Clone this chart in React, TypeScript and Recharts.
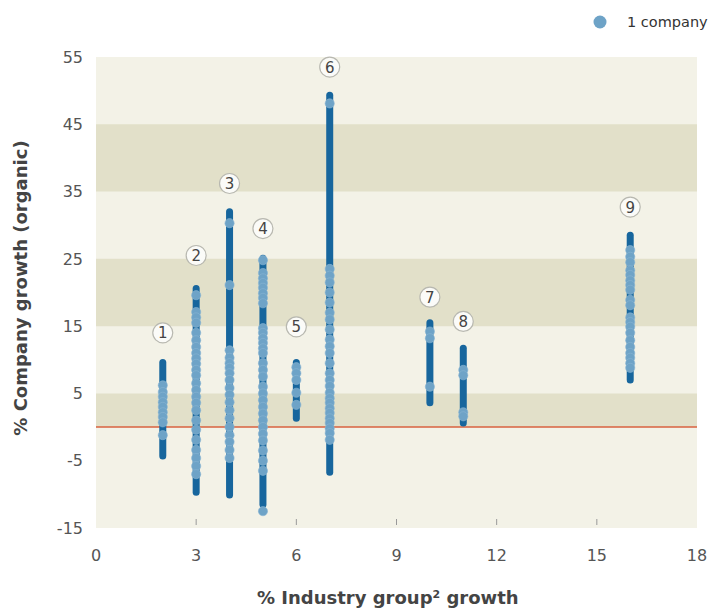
import React from "react";
import {
  ComposedChart,
  XAxis,
  YAxis,
  Scatter,
  ReferenceArea,
  ReferenceLine,
} from "recharts";

// industry groups: x position, range of company growth, label height
const groupX = [2, 3, 4, 5, 6, 7, 10, 11, 16];
const groupMin = [-4.3, -9.7, -10.1, -11.5, 1.3, -6.7, 3.6, 0.6, 7.0];
const groupMax = [9.6, 20.6, 32, 25.1, 9.6, 49.3, 15.5, 11.7, 28.5];
const groupLabelY = [14, 25.5, 36.2, 29.5, 14.9, 53.5, 19.3, 15.7, 32.7];

// visible single-company dots per group
const group1 = [6.2, 5.2, 4.5, 3.7, 3.0, 2.2, 1.5, 0.7, -1.2];
const group2 = [19.6, 17.1, 16.3, 15.5, 14, 12.9, 11.9, 11, 10.2, 9.4, 8.5, 7.7, 6.5, 5.5, 4.5, 3.6, 2.5, 1.0, -0.4, -1.9, -3.4, -4.6, -5.8, -7];
const group3 = [30.3, 21.1, 11.4, 10.3, 9.5, 8.8, 8.0, 7.0, 5.8, 4.8, 3.7, 2.5, 1.3, 0, -1.2, -2.2, -3.4, -4.6];
const group4 = [24.8, 22.9, 22.1, 21.4, 20.7, 19.9, 19.2, 18.4, 14.7, 14.0, 13.2, 12.5, 11.7, 11.0, 9.5, 8.5, 7.5, 6, 5, 4, 3, 2, 1, 0, -1, -2, -3.5, -5, -6.5, -12.5];
const group5 = [8.9, 8.0, 7.0, 5.1, 3.3];
const group6 = [48.1, 23.5, 22.5, 21.5, 20, 18.5, 17, 16, 14.5, 13, 12, 11, 9.5, 8, 7, 6.1, 5.1, 4.3, 3.6, 2.8, 2.1, 1.3, 0.6, -0.2, -0.9, -1.9];
const group7 = [14.2, 13.2, 6.0];
const group8 = [8.5, 7.7, 2.2, 1.6];
const group9 = [26.3, 25.3, 24.5, 23.3, 22.6, 21.8, 21.1, 20.4, 18.9, 18.1, 16.3, 15.6, 14.9, 14.0, 12.9, 11.9, 11.0, 10.3, 9.5, 8.8];

const xTicks = [0, 3, 6, 9, 12, 15, 18];
const yTicks = [-15, -5, 5, 15, 25, 35, 45, 55];

const allGroups = [group1, group2, group3, group4, group5, group6, group7, group8, group9];
const companyPoints = allGroups.flatMap((vals, i) => vals.map((y) => ({ x: groupX[i], y })));
const labelPoints = groupX.map((x, i) => ({ x, y: groupLabelY[i], n: i + 1 }));

const FONT = "'DejaVu Sans', sans-serif";
const LIGHT = "#f3f2e7";
const DARK = "#e2e0c9";
const BAR = "#17669d";
const DOT = "#6ea3c7";

const CompanyDot = (props: any) => {
  const { cx, cy } = props;
  return <circle cx={cx} cy={cy} r={4.6} fill={DOT} stroke="#8ab6d4" strokeWidth={0.6} />;
};

const NumberBadge = (props: any) => {
  const { cx, cy, payload } = props;
  return (
    <g>
      <circle cx={cx} cy={cy} r={10} fill="#fbfbf8" stroke="#b8b8b0" strokeWidth={1.2} />
      <text x={cx} y={cy + 5.5} textAnchor="middle" fontSize={15} fontFamily={FONT} fill="#444">
        {payload.n}
      </text>
    </g>
  );
};

const XTick = (props: any) => {
  const { x, y, payload } = props;
  const v = payload.value;
  return (
    <g>
      {v > 0 && v < 18 && <line x1={x} x2={x} y1={y - 9} y2={y - 3} stroke="#999" strokeWidth={1} />}
      <text x={x} y={y + 33} textAnchor="middle" fontSize={16} fontFamily={FONT} fill="#555">
        {v}
      </text>
    </g>
  );
};

export default function App() {
  return (
    <div style={{ position: "absolute", left: 0, top: 0, background: "#fff" }}>
      <ComposedChart width={709} height={612} margin={{ top: 57, right: 12, bottom: 24, left: 36 }}>
        <XAxis
          type="number"
          dataKey="x"
          domain={[0, 18]}
          ticks={xTicks}
          axisLine={false}
          tickLine={false}
          tickSize={0}
          tickMargin={0}
          height={60}
          tick={<XTick />}
          label={{
            content: () => (
              <text x={257} y={604} fontSize={18} fontWeight="bold" fontFamily={FONT} fill="#444">
                % Industry group
                <tspan fontSize={11} dy={-6}>2</tspan>
                <tspan dy={6}> growth</tspan>
              </text>
            ),
          }}
        />
        <YAxis
          type="number"
          dataKey="y"
          domain={[-15, 55]}
          ticks={yTicks}
          axisLine={false}
          tickLine={false}
          tickSize={0}
          tickMargin={13}
          width={60}
          tick={{ fontSize: 16, fontFamily: FONT, fill: "#555" }}
          label={{
            content: () => (
              <text
                x={27}
                y={288}
                transform="rotate(-90 27 288)"
                textAnchor="middle"
                fontSize={18}
                fontWeight="bold"
                fontFamily={FONT}
                fill="#444"
              >
                % Company growth (organic)
              </text>
            ),
          }}
        />
        <ReferenceArea y1={-15} y2={55} fill={LIGHT} fillOpacity={1} stroke="none" />
        <ReferenceArea y1={35} y2={45} fill={DARK} fillOpacity={1} stroke="none" />
        <ReferenceArea y1={15} y2={25} fill={DARK} fillOpacity={1} stroke="none" />
        <ReferenceArea y1={0} y2={5} fill={DARK} fillOpacity={1} stroke="none" />
        <ReferenceLine y={0} stroke="#d8623f" strokeWidth={1.5} />
        {groupX.map((x, i) => (
          <ReferenceLine
            key={`bar-${i}`}
            segment={[
              { x, y: groupMin[i] },
              { x, y: groupMax[i] },
            ]}
            stroke={BAR}
            strokeWidth={7}
            strokeLinecap="round"
          />
        ))}
        <Scatter data={companyPoints} shape={<CompanyDot />} isAnimationActive={false} />
        <Scatter data={labelPoints} shape={<NumberBadge />} isAnimationActive={false} />
      </ComposedChart>
      <svg width={120} height={30} style={{ position: "absolute", left: 589, top: 7 }}>
        <circle cx={11} cy={15} r={6.5} fill={DOT} />
        <text x={38} y={20} fontSize={14.5} fontFamily={FONT} fill="#333">
          1 company
        </text>
      </svg>
    </div>
  );
}
